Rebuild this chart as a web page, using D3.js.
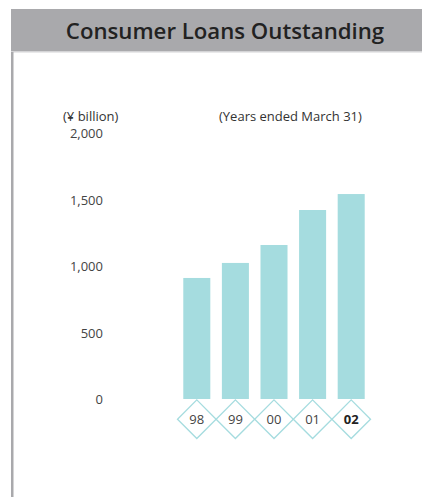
<!DOCTYPE html>
<html>
<head>
<meta charset="utf-8">
<script src="https://cdn.jsdelivr.net/npm/d3@7"></script>
<style>
  html, body { margin: 0; padding: 0; background: #fff; }
  svg { display: block; }
</style>
</head>
<body>
<svg id="chart" width="426" height="497"></svg>
<script>
// Consumer loans outstanding, ¥ billion, fiscal years ended March 31
const years = ["98", "99", "00", "01", "02"];
const loans = [910, 1023, 1158, 1421, 1541];
const yTicks = [0, 500, 1000, 1500, 2000];
const currentYear = "02";

const W = 426, H = 497;
const svg = d3.select("#chart");
const font = "'Open Sans', 'Noto Sans', sans-serif";

// Header band and left rule
svg.append("rect").attr("x", 11).attr("y", 9).attr("width", 411).attr("height", 43)
  .attr("fill", "#a9a9ac");
svg.append("rect").attr("x", 11).attr("y", 51).attr("width", 411).attr("height", 1.5)
  .attr("fill", "#d4d4d6");
svg.append("rect").attr("x", 11).attr("y", 52).attr("width", 2.5).attr("height", H - 52)
  .attr("fill", "#a9a9ac");

svg.append("text")
  .attr("x", 225).attr("y", 38.5)
  .attr("text-anchor", "middle")
  .attr("font-family", font)
  .attr("font-size", 22.2)
  .attr("font-weight", 600)
  .attr("fill", "#222")
  .text("Consumer Loans Outstanding");

// Scales
const y = d3.scaleLinear().domain([0, 2000]).range([399, 133]);
const x = d3.scaleBand().domain(years).range([177.5, 370.5]).paddingInner(0.3).paddingOuter(0.15);

// Value axis (labels only)
const yAxis = d3.axisLeft(y).tickValues(yTicks).tickSize(0).tickPadding(0)
  .tickFormat(d3.format(","));
const gy = svg.append("g").attr("transform", "translate(103,0)").call(yAxis);
gy.select(".domain").remove();
gy.selectAll("text")
  .attr("font-family", font).attr("font-size", 13).attr("fill", "#444")
  .attr("dy", "0.35em");

svg.append("text").attr("x", 63).attr("y", 121)
  .attr("font-family", font).attr("font-size", 13).attr("fill", "#333")
  .text("(¥ billion)");
svg.append("text").attr("x", 219).attr("y", 121)
  .attr("font-family", font).attr("font-size", 13).attr("fill", "#333")
  .text("(Years ended March 31)");

// Bars
svg.append("g").selectAll("rect").data(years).join("rect")
  .attr("x", d => x(d))
  .attr("width", x.bandwidth())
  .attr("y", (d, i) => y(loans[i]))
  .attr("height", (d, i) => y(0) - y(loans[i]))
  .attr("fill", "#a5dcdf");

// Year markers: diamonds under each bar
const step = x.step();
const half = step / 2;
const cy = 419.2;
const marks = svg.append("g").selectAll("g").data(years).join("g")
  .attr("transform", d => `translate(${x(d) + x.bandwidth() / 2},${cy})`);
marks.append("path")
  .attr("d", `M0,${-half}L${half},0L0,${half}L${-half},0Z`)
  .attr("fill", "#fff")
  .attr("stroke", "#a5dcdf")
  .attr("stroke-width", 1.3);
marks.append("text")
  .attr("text-anchor", "middle").attr("dy", "0.36em")
  .attr("font-family", font).attr("font-size", 13)
  .attr("font-weight", d => d === currentYear ? 700 : 400)
  .attr("fill", d => d === currentYear ? "#222" : "#444")
  .text(d => d);
</script>
</body>
</html>
